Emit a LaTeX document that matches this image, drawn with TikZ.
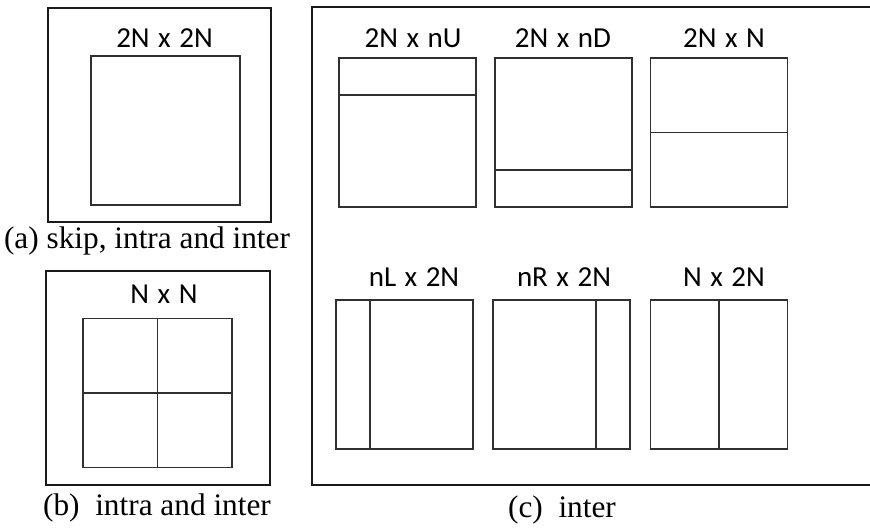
\documentclass[tikz,border=0pt]{standalone}
\usepackage{fontspec}
\setmainfont{Liberation Serif}
\newfontfamily\cufont[WordSpace=1.3]{Carlito}
\usetikzlibrary{calc,positioning}
\definecolor{ink}{HTML}{1A1A1A}
\definecolor{edge}{HTML}{303030}
\tikzset{
  frame/.style={
    draw=ink,
    line width=1.3pt
  },
  cu/.style={
    draw=edge,
    line width=1.3pt,
    minimum width=137pt,
    minimum height=149pt,
    inner sep=0pt
  },
  bigcu/.style={
    cu,
    minimum width=149pt
  },
  split/.style={
    draw=edge,
    line width=1.3pt
  },
  cutext/.style={
    font=\cufont\fontsize{29}{31}\selectfont,
    inner sep=0pt
  },
  caption/.style={
    font=\fontsize{31.3}{33}\selectfont,
    inner sep=0pt
  }
}

\begin{document}
\begin{tikzpicture}[x=1pt, y=-1pt]
  \useasboundingbox (0,0) rectangle (870,529);

  % (a) one partition only
  \node[frame, minimum width=223pt, minimum height=214pt, inner sep=0pt]
    (frameA) at (159.5,115) {};
  \node[bigcu] (skipcu) at (165.5,130.5) {};
  \node[cutext] (skiplabel) at (164.5,38) {2N x 2N};
  \node[caption] (capA) at (147,241) {(a) skip, intra and inter};

  % (b) four square parts
  \node[frame, minimum width=224pt, minimum height=214pt, inner sep=0pt]
    (frameB) at (158,378) {};
  \node[bigcu] (quadcu) at (157.5,393) {};
  \draw[split] (quadcu.north) -- (quadcu.south);
  \draw[split] (quadcu.west) -- (quadcu.east);
  \node[cutext] (quadlabel) at (164,294) {N x N};
  \node[caption] (capB) at (157,508) {(b)\ \ intra and inter};

  % (c) the six inter partitions
  \coordinate (frameCtop) at (870,7);
  \coordinate (frameCbot) at (870,485);
  \draw[frame] (frameCtop) -| (312,485) -- (frameCbot);

  \node[cu] (nU) at (407.5,132.5) {};
  \node[cu] (nD) at (563.5,132.5) {};
  \node[cu] (hN) at (719,132.5) {};
  \foreach \part/\f in {nU/0.25, nD/0.75, hN/0.5}
    \draw[split] ($(\part.north west)!\f!(\part.south west)$) --
      ($(\part.north east)!\f!(\part.south east)$);

  \node[cu] (nL) at (404.5,374.5) {};
  \node[cu] (nR) at (561.5,374.5) {};
  \node[cu] (vN) at (719,374.5) {};
  \foreach \part/\f in {nL/0.25, nR/0.75, vN/0.5}
    \draw[split] ($(\part.north west)!\f!(\part.north east)$) --
      ($(\part.south west)!\f!(\part.south east)$);

  \node[cutext] (nUlabel) at (413,38) {2N x nU};
  \node[cutext] (nDlabel) at (563,38) {2N x nD};
  \node[cutext] (hNlabel) at (724,38) {2N x N};
  \node[cutext] (nLlabel) at (414,277) {nL x 2N};
  \node[cutext] (nRlabel) at (564,277) {nR x 2N};
  \node[cutext] (vNlabel) at (724,277) {N x 2N};
  \node[caption] (capC) at (562,510) {(c)\ \ inter};
\end{tikzpicture}
\end{document}
